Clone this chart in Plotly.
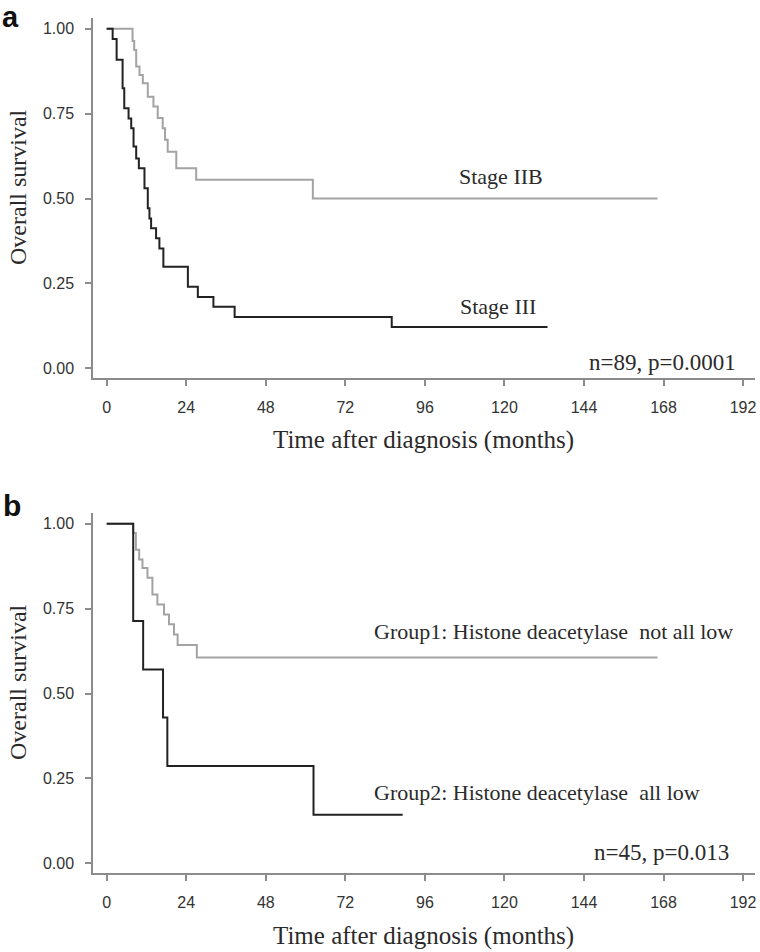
import plotly.graph_objects as go

# ---------------- data ----------------
# Panel a: Kaplan-Meier, stage
stage3_t = [0, 1.8, 3.0, 4.8, 5.3, 6.6, 7.4, 8.1, 8.9, 9.7, 11.4, 12.4, 12.9, 13.4,
            14.9, 15.9, 17.1, 24.5, 27.5, 32.2, 38.6, 86.0, 133.0]
stage3_s = [1.0, 0.970, 0.909, 0.825, 0.766, 0.736, 0.707, 0.653, 0.618, 0.589, 0.530,
            0.471, 0.441, 0.412, 0.383, 0.353, 0.299, 0.240, 0.210, 0.181, 0.151, 0.121, 0.121]
stage2b_t = [0, 7.8, 8.3, 8.9, 9.9, 10.9, 12.4, 14.1, 15.4, 16.9, 17.6, 18.4, 21.0,
             27.0, 62.2, 166.2]
stage2b_s = [1.0, 0.964, 0.938, 0.889, 0.864, 0.840, 0.800, 0.771, 0.737, 0.707, 0.673,
             0.638, 0.589, 0.555, 0.500, 0.500]

# Panel b: Kaplan-Meier, histone deacetylase groups
group1_t = [0, 8.0, 8.8, 9.8, 10.8, 12.3, 13.8, 15.3, 17.3, 18.8, 20.3, 21.4, 27.2, 166.2]
group1_s = [1.0, 0.973, 0.924, 0.895, 0.870, 0.841, 0.792, 0.762, 0.733, 0.704, 0.674,
            0.643, 0.606, 0.606]
group2_t = [0, 8.0, 11.0, 17.0, 18.3, 62.4, 89.3]
group2_s = [1.0, 0.714, 0.571, 0.429, 0.286, 0.143, 0.143]

x_ticks = [0, 24, 48, 72, 96, 120, 144, 168, 192]
y_ticks = [0.0, 0.25, 0.50, 0.75, 1.00]

# ---------------- layout helpers ----------------
W, H = 760, 952
ML, MR, MT, MB = 93, 5, 18, 79
PW = W - ML - MR
PH = H - MT - MB


def px(xpix):
    return (xpix - ML) / PW


def py(ypix):
    return (H - MB - ypix) / PH


GRAY = "#a3a3a3"
DARK = "#222222"
AXC = "#8c8c8c"
SERIF = "Liberation Serif, Times New Roman, serif"
SANS = "Liberation Sans, Arial, sans-serif"

fig = go.Figure()

fig.add_trace(go.Scatter(x=stage2b_t, y=stage2b_s, mode="lines", line_shape="hv",
                         line=dict(color=GRAY, width=2), xaxis="x", yaxis="y",
                         showlegend=False, hoverinfo="skip"))
fig.add_trace(go.Scatter(x=stage3_t, y=stage3_s, mode="lines", line_shape="hv",
                         line=dict(color=DARK, width=2), xaxis="x", yaxis="y",
                         showlegend=False, hoverinfo="skip"))
fig.add_trace(go.Scatter(x=group1_t, y=group1_s, mode="lines", line_shape="hv",
                         line=dict(color=GRAY, width=2), xaxis="x2", yaxis="y2",
                         showlegend=False, hoverinfo="skip"))
fig.add_trace(go.Scatter(x=group2_t, y=group2_s, mode="lines", line_shape="hv",
                         line=dict(color=DARK, width=2), xaxis="x2", yaxis="y2",
                         showlegend=False, hoverinfo="skip"))

xr = [-4.13, 195.6]
yr = [-0.029, 1.032]

axis_common = dict(showline=True, linecolor=AXC, linewidth=1.5, ticks="outside",
                   ticklen=6, tickcolor=AXC, tickwidth=1.5, showgrid=False,
                   zeroline=False, tickfont=dict(family=SANS, size=16, color="#333333"),
                   mirror=False, automargin=False)

top_dom = [py(378), 1.0]
bot_dom = [0.0, py(513)]

fig.update_layout(
    template="none",
    width=W, height=H,
    margin=dict(l=ML, r=MR, t=MT, b=MB, autoexpand=False),
    paper_bgcolor="white", plot_bgcolor="white",
    xaxis=dict(domain=[0, 1], anchor="y", range=xr, tickvals=x_ticks,
               ticklabelstandoff=8, **axis_common),
    yaxis=dict(domain=top_dom, anchor="x", range=yr, tickvals=y_ticks,
               tickformat=".2f", ticklabelstandoff=8, **axis_common),
    xaxis2=dict(domain=[0, 1], anchor="y2", range=xr, tickvals=x_ticks,
                ticklabelstandoff=8, **axis_common),
    yaxis2=dict(domain=bot_dom, anchor="x2", range=yr, tickvals=y_ticks,
                tickformat=".2f", ticklabelstandoff=8, **axis_common),
)

ann = []
lab_font = dict(family=SERIF, size=22, color="#2a2a2a")
# panel a labels
ann.append(dict(x=119.0, y=0.564, xref="x", yref="y", text="Stage IIB", showarrow=False,
                font=lab_font, xanchor="center", yanchor="middle"))
ann.append(dict(x=118.0, y=0.181, xref="x", yref="y", text="Stage III", showarrow=False,
                font=lab_font, xanchor="center", yanchor="middle"))
ann.append(dict(x=190.4, y=0.016, xref="x", yref="y", text="n=89, p=0.0001",
                showarrow=False, font=dict(family=SERIF, size=23, color="#2a2a2a"),
                xanchor="right", yanchor="middle"))
# panel b labels
ann.append(dict(x=80.0, y=0.683, xref="x2", yref="y2",
                text="Group1: Histone deacetylase\u00a0 not all low", showarrow=False,
                font=lab_font, xanchor="left", yanchor="middle"))
ann.append(dict(x=80.0, y=0.208, xref="x2", yref="y2",
                text="Group2: Histone deacetylase\u00a0 all low", showarrow=False,
                font=lab_font, xanchor="left", yanchor="middle"))
ann.append(dict(x=188.5, y=0.031, xref="x2", yref="y2", text="n=45, p=0.013",
                showarrow=False, font=dict(family=SERIF, size=23, color="#2a2a2a"),
                xanchor="right", yanchor="middle"))

# axis titles
title_font = dict(family=SERIF, size=25, color="#2a2a2a")
for yc in (440, 936):
    ann.append(dict(x=px(423), y=py(yc), xref="paper", yref="paper",
                    text="Time after diagnosis (months)", showarrow=False,
                    font=title_font, xanchor="center", yanchor="middle"))
for yc in (187, 682):
    ann.append(dict(x=px(18), y=py(yc), xref="paper", yref="paper",
                    text="Overall survival", showarrow=False, textangle=-90,
                    font=dict(family=SERIF, size=24, color="#2a2a2a"),
                    xanchor="center", yanchor="middle"))
# panel letters
ann.append(dict(x=px(10), y=py(17), xref="paper", yref="paper", text="<b>a</b>",
                showarrow=False, font=dict(family=SANS, size=29, color="#111111"),
                xanchor="center", yanchor="middle", borderpad=0))
ann.append(dict(x=px(12), y=py(505), xref="paper", yref="paper", text="<b>b</b>",
                showarrow=False, font=dict(family=SANS, size=30, color="#111111"),
                xanchor="center", yanchor="middle"))

fig.update_layout(annotations=ann)

# remove the browser's default 8px body margin so the figure sits at the page origin
fig.write_html("out.html", config={"displayModeBar": False},
               post_script="document.body.style.margin='0';")
